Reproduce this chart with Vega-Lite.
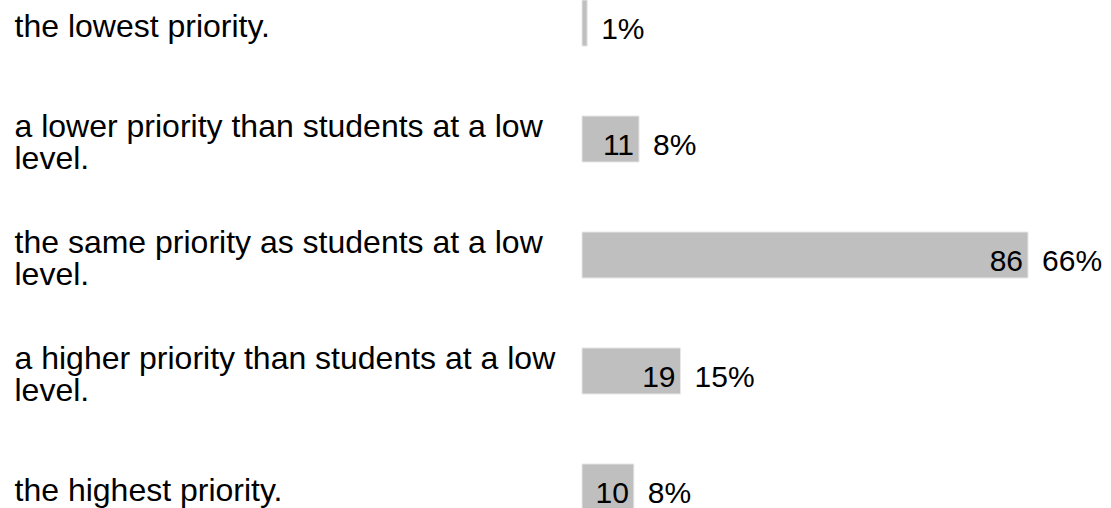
{
  "$schema": "https://vega.github.io/schema/vega-lite/v6.json",
  "width": 529,
  "height": 510,
  "autosize": {"type": "none"},
  "padding": {"left": 582, "top": 0, "right": 0, "bottom": 0},
  "background": "white",
  "config": {"view": {"stroke": null}, "font": "Liberation Sans"},
  "data": {
    "values": [
      {"answer": "the lowest priority.", "count": 1, "countLabel": "", "pct": "1%"},
      {"answer": "a lower priority than students at a low|level.", "count": 11, "countLabel": "11", "pct": "8%"},
      {"answer": "the same priority as students at a low|level.", "count": 86, "countLabel": "86", "pct": "66%"},
      {"answer": "a higher priority than students at a low|level.", "count": 19, "countLabel": "19", "pct": "15%"},
      {"answer": "the highest priority.", "count": 10, "countLabel": "10", "pct": "8%"}
    ]
  },
  "encoding": {
    "y": {
      "field": "answer",
      "type": "nominal",
      "sort": null,
      "scale": {"paddingInner": 0.603, "paddingOuter": 0},
      "axis": {
        "title": null,
        "domain": false,
        "ticks": false,
        "grid": false,
        "labelAlign": "left",
        "labelBaseline": "middle",
        "labelPadding": 568,
        "labelFontSize": 32,
        "labelFont": "Liberation Sans",
        "labelColor": "#000000",
        "labelLimit": 0,
        "labelLineHeight": 32,
        "labelOffset": {"condition": {"test": "indexof(datum.label, '|') >= 0", "value": -12}, "value": 4},
        "labelExpr": "split(datum.label, '|')"
      }
    }
  },
  "layer": [
    {
      "mark": {"type": "bar", "color": "#bfbfbf", "stroke": "#e8e8e8", "strokeWidth": 1},
      "encoding": {
        "x": {"field": "count", "type": "quantitative", "scale": {"domain": [0, 102], "nice": false}, "axis": null}
      }
    },
    {
      "mark": {"type": "text", "align": "right", "baseline": "middle", "dx": -5, "dy": 7, "fontSize": 30, "color": "#000000"},
      "encoding": {
        "x": {"field": "count", "type": "quantitative"},
        "text": {"field": "countLabel"}
      }
    },
    {
      "mark": {"type": "text", "align": "left", "baseline": "middle", "dx": 14, "dy": 7, "fontSize": 30, "color": "#000000"},
      "encoding": {
        "x": {"field": "count", "type": "quantitative"},
        "text": {"field": "pct"}
      }
    }
  ]
}
